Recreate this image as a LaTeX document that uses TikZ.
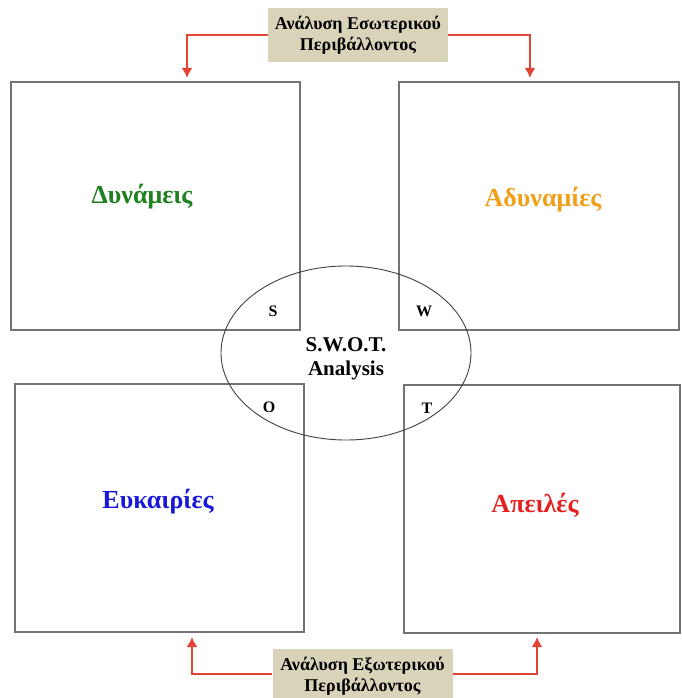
\documentclass[tikz,border=0pt]{standalone}
\usepackage{fontspec}
\setmainfont{Liberation Serif}
\usetikzlibrary{shapes.geometric,arrows.meta}
\definecolor{labelfill}{RGB}{217,211,186}
\definecolor{arrowred}{RGB}{226,68,52}
\definecolor{sgreen}{RGB}{30,128,30}
\definecolor{worange}{RGB}{240,160,24}
\definecolor{oblue}{RGB}{24,24,216}
\definecolor{tred}{RGB}{228,32,32}
\begin{document}
\begin{tikzpicture}[x=1pt,y=-1pt,
  quad/.style={draw=black!55,line width=1.5pt,minimum width=#1,minimum height=248pt,inner sep=0pt},
  quadtext/.style={font=\fontsize{26}{30}\selectfont\bfseries},
  letter/.style={font=\fontsize{16}{18}\selectfont\bfseries},
  envlabel/.style={fill=labelfill,minimum width=180pt,minimum height=54pt,align=center,inner sep=0pt,
    font=\fontsize{18}{21}\selectfont\bfseries},
  envarrow/.style={draw=arrowred,line width=2pt,-{Latex[length=10pt,width=11pt]}}]
  \useasboundingbox (0,0) rectangle (681,698);
  % the four quadrants
  \node[quad=289pt] (str) at (155.5,206) {};
  \node[quad=280pt] (wea) at (539,206) {};
  \node[quad=289pt] (opp) at (159.5,508) {};
  \node[quad=276pt] (thr) at (542,509) {};
  \node[quadtext,text=sgreen] (strtext) at (142,197) {Δυνάμεις};
  \node[quadtext,text=worange] (weatext) at (543,200) {Αδυναμίες};
  \node[quadtext,text=oblue] (opptext) at (158,502) {Ευκαιρίες};
  \node[quadtext,text=tred] (thrtext) at (535,505) {Απειλές};
  % central ellipse
  \node[ellipse,draw=black!75,line width=0.9pt,minimum width=250pt,minimum height=174pt] (swot) at (346,353) {};
  \node[align=center,font=\fontsize{21}{24}\selectfont\bfseries] (swottext) at (346,359) {S.W.O.T.\\Analysis};
  \node[letter] (s) at (273,311) {S};
  \node[letter] (w) at (424,311) {W};
  \node[letter] (o) at (269,407) {O};
  \node[letter] (t) at (427,408) {T};
  % internal / external environment
  \node[envlabel] (internal) at (358,35.5) {Ανάλυση Εσωτερικού\\Περιβάλλοντος};
  \node[envlabel] (external) at (362.5,676) {Ανάλυση Εξωτερικού\\Περιβάλλοντος};
  \coordinate (intl) at (187,78);
  \coordinate (intr) at (530,78);
  \coordinate (extl) at (192,637);
  \coordinate (extr) at (537,637);
  \draw[envarrow] (internal.west) -| (intl);
  \draw[envarrow] (internal.east) -| (intr);
  \draw[envarrow] ([yshift=2pt]external.west) -| (extl);
  \draw[envarrow] ([yshift=2pt]external.east) -| (extr);
\end{tikzpicture}
\end{document}
